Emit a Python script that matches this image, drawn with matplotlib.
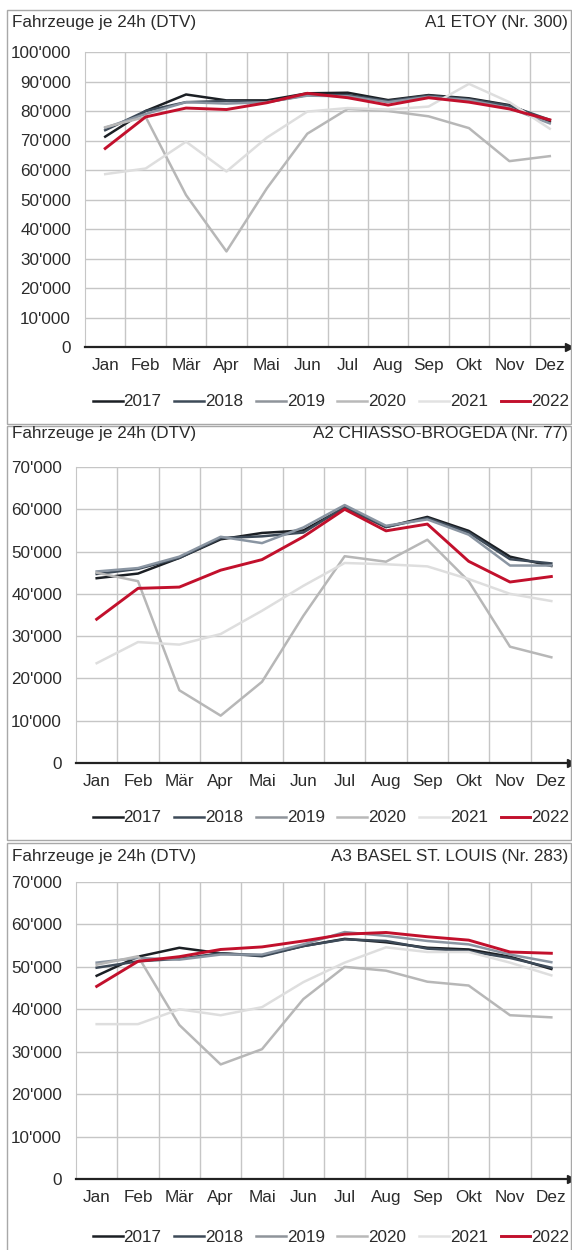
import matplotlib.pyplot as plt
from matplotlib.patches import Rectangle
from matplotlib.ticker import FixedLocator, FuncFormatter

plt.rcParams['font.family'] = ['Liberation Sans', 'DejaVu Sans']

months = ['Jan', 'Feb', 'Mär', 'Apr', 'Mai', 'Jun', 'Jul', 'Aug', 'Sep', 'Okt', 'Nov', 'Dez']
years = ['2017', '2018', '2019', '2020', '2021', '2022']

# A1 ETOY (Nr. 300)
etoy_2017 = [71300, 80000, 85600, 83600, 83600, 86000, 86200, 83700, 85400, 84300, 82000, 76400]
etoy_2018 = [73500, 80000, 83000, 83400, 83000, 85400, 85400, 83400, 85200, 84000, 81800, 77000]
etoy_2019 = [74300, 79000, 83000, 82500, 83000, 85200, 85000, 83000, 84800, 83700, 81000, 75800]
etoy_2020 = [74500, 78000, 51500, 32400, 53800, 72300, 80700, 80000, 78200, 74200, 63000, 64700]
etoy_2021 = [58600, 60500, 69600, 59500, 71000, 79800, 81000, 80500, 81500, 89200, 83000, 74000]
etoy_2022 = [67300, 78000, 81000, 80500, 82800, 86000, 84500, 82000, 84500, 83000, 80700, 77000]

# A2 CHIASSO-BROGEDA (Nr. 77)
chiasso_2017 = [43700, 44800, 48500, 52900, 54400, 55000, 60400, 55800, 58200, 54900, 48800, 46600]
chiasso_2018 = [44700, 45900, 48500, 53200, 53600, 54500, 60500, 55800, 57900, 54500, 48200, 47200]
chiasso_2019 = [45300, 46100, 48800, 53500, 52000, 55700, 61000, 56100, 57600, 54000, 46700, 46700]
chiasso_2020 = [45000, 43000, 17200, 11200, 19200, 34800, 48900, 47600, 52800, 43000, 27500, 25000]
chiasso_2021 = [23600, 28600, 28000, 30500, 36000, 41900, 47300, 47000, 46500, 43500, 40000, 38300]
chiasso_2022 = [34000, 41300, 41600, 45600, 48100, 53500, 60000, 54900, 56500, 47700, 42800, 44100]

# A3 BASEL ST. LOUIS (Nr. 283)
basel_2017 = [47900, 52400, 54500, 53200, 52700, 54900, 56600, 55800, 54500, 54100, 52400, 49500]
basel_2018 = [49800, 51300, 51900, 53200, 52500, 54900, 56500, 56100, 54300, 53700, 52100, 49800]
basel_2019 = [51000, 52100, 51700, 52900, 52900, 55300, 58200, 57300, 56100, 55300, 52900, 51100]
basel_2020 = [50500, 52500, 36300, 27000, 30600, 42400, 50000, 49100, 46500, 45600, 38600, 38100]
basel_2021 = [36500, 36500, 40000, 38600, 40500, 46400, 51000, 54600, 53500, 53500, 51000, 48000]
basel_2022 = [45400, 51300, 52400, 54100, 54700, 56100, 57700, 58100, 57100, 56300, 53500, 53200]

colors = ['#1b1f24', '#3d4a58', '#8a95a2', '#b7b7b7', '#dedede', '#c2102c']
legend_colors = ['#1b1f24', '#3d4a58', '#8f949a', '#b9b9b9', '#e2e2e2', '#c2102c']
widths = [1.8, 1.8, 1.8, 1.8, 1.8, 2.1]
text_c = '#2b2b2b'
grid_c = '#c6c6c6'

W, H = 572, 1250


def px_box(l, t, r, b):
    return [l / W, 1 - b / H, (r - l) / W, (b - t) / H]


panels = [
    dict(title='A1 ETOY (Nr. 300)', data=[etoy_2017, etoy_2018, etoy_2019, etoy_2020, etoy_2021, etoy_2022],
         ymax=100000, box=(85, 52, 570, 347), frame=(7, 10, 571, 424), head=23, leg=402),
    dict(title='A2 CHIASSO-BROGEDA (Nr. 77)', data=[chiasso_2017, chiasso_2018, chiasso_2019, chiasso_2020, chiasso_2021, chiasso_2022],
         ymax=70000, box=(76, 467, 572, 763), frame=(7, 426, 571, 840), head=434, leg=818),
    dict(title='A3 BASEL ST. LOUIS (Nr. 283)', data=[basel_2017, basel_2018, basel_2019, basel_2020, basel_2021, basel_2022],
         ymax=70000, box=(76, 882, 572, 1179), frame=(7, 843, 571, 1252), head=857, leg=1237),
]

fig = plt.figure(figsize=(W / 100, H / 100), dpi=100)

for p in panels:
    # panel frame
    fl, ft, fr, fb = p['frame']
    fig.patches.append(Rectangle((fl / W, 1 - fb / H), (fr - fl) / W, (fb - ft) / H,
                                 transform=fig.transFigure, fill=False, ec='#a8a8a8', lw=1.0))
    fig.text(12 / W, 1 - p['head'] / H, 'Fahrzeuge je 24h (DTV)', fontsize=12.3, color=text_c, va='center', ha='left')
    fig.text(568 / W, 1 - p['head'] / H, p['title'], fontsize=12.3, color=text_c, va='center', ha='right')

    ax = fig.add_axes(px_box(*p['box']))
    x = list(range(len(months)))
    for i in [4, 3, 2, 1, 0, 5]:
        ax.plot(x, p['data'][i], color=colors[i], lw=widths[i], solid_joinstyle='round', zorder=3 + i)

    ax.set_xlim(-0.5, 11.5)
    ax.set_ylim(0, p['ymax'])
    ax.set_xticks(x)
    ax.set_xticklabels(months)
    ax.xaxis.set_minor_locator(FixedLocator([k + 0.5 for k in range(11)]))
    ax.set_yticks(range(0, p['ymax'] + 1, 10000))
    ax.yaxis.set_major_formatter(FuncFormatter(lambda v, pos: f"{v:,.0f}".replace(',', "'")))
    ax.tick_params(axis='both', which='both', length=0, colors=text_c, labelsize=12.3)
    ax.tick_params(axis='y', pad=10)
    ax.tick_params(axis='x', pad=8)
    ax.grid(axis='y', which='major', color=grid_c, lw=1.0)
    ax.grid(axis='x', which='minor', color=grid_c, lw=1.0)
    ax.set_axisbelow(True)
    for s in ['top', 'right']:
        ax.spines[s].set_visible(False)
    ax.spines['left'].set_color(grid_c)
    ax.spines['bottom'].set_color('#222222')
    ax.spines['bottom'].set_linewidth(1.6)
    ax.spines['bottom'].set_zorder(20)
    ax.plot([0.997], [0], marker='>', ms=6, color='#222222', transform=ax.transAxes, clip_on=False, zorder=21)

    leg_handles = [plt.Line2D([], [], color=legend_colors[i], lw=widths[i]) for i in range(len(years))]
    fig.legend(leg_handles, years, loc='center', bbox_to_anchor=(331 / W, 1 - p['leg'] / H),
               ncol=6, frameon=False, fontsize=12.3, handlelength=1.75, handletextpad=0.05,
               columnspacing=0.75, labelcolor=text_c, borderpad=0)

fig.savefig('out.png', dpi=100, facecolor='white')
